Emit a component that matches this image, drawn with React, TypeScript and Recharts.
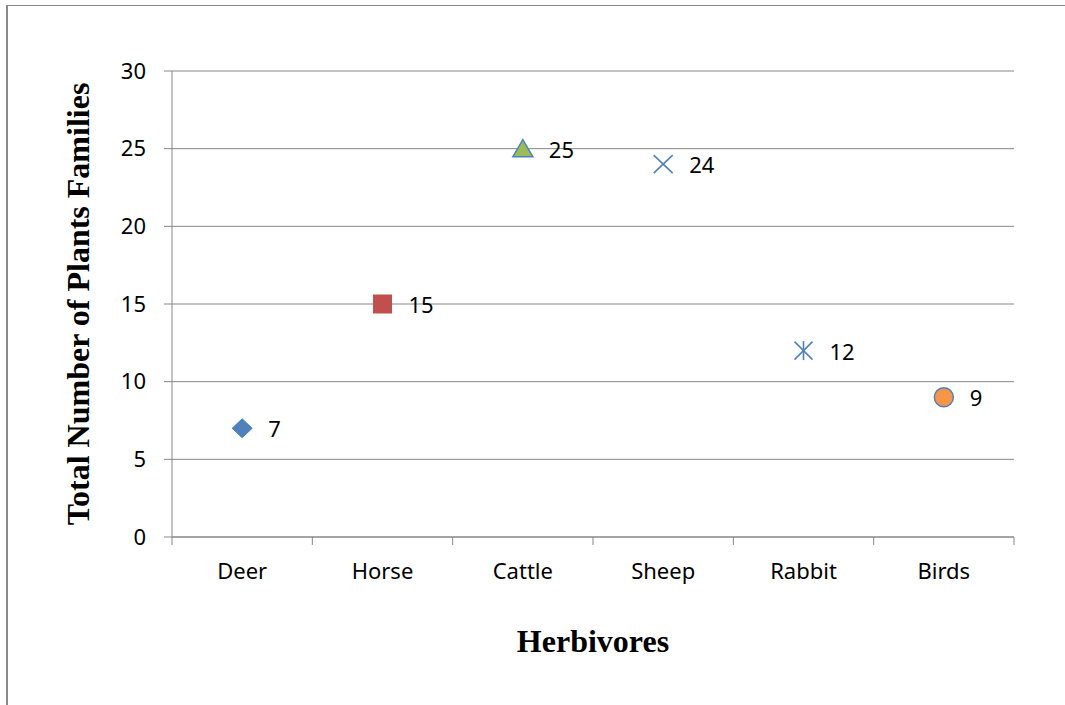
import { ComposedChart, Line, XAxis, YAxis, CartesianGrid, Label } from 'recharts'

const herbivores = ['Deer', 'Horse', 'Cattle', 'Sheep', 'Rabbit', 'Birds']
const plantFamilies = [7, 15, 25, 24, 12, 9]
const yTicks = [0, 5, 10, 15, 20, 25, 30]

const BLUE = '#4F81BD'
const GRID = '#878787'
const TICK_FONT = { fontFamily: 'Noto Sans', fontSize: 22, fill: '#000' }
const TITLE_FONT = { fontFamily: 'Liberation Serif', fontSize: 32, fontWeight: 'bold', fill: '#000' }

const chartData = herbivores.map((name, i) => ({ name, value: plantFamilies[i] }))

// one marker style per herbivore, like the office default series markers
const Marker = (props: any) => {
  const { cx, cy, payload } = props
  if (cx == null || cy == null) return null
  let mark: any = null
  switch (payload.name) {
    case 'Deer':
      mark = <polygon points={`${cx},${cy - 9.5} ${cx + 10},${cy} ${cx},${cy + 9.5} ${cx - 10},${cy}`} fill={BLUE} stroke={BLUE} strokeWidth={1} />
      break
    case 'Horse':
      mark = <rect x={cx - 9.5} y={cy - 9.5} width={19} height={19} fill="#C0504D" />
      break
    case 'Cattle':
      mark = <polygon points={`${cx},${cy - 9} ${cx + 10},${cy + 8} ${cx - 10},${cy + 8}`} fill="#9BBB59" stroke={BLUE} strokeWidth={1.5} />
      break
    case 'Sheep':
      mark = (
        <g stroke={BLUE} strokeWidth={1.6}>
          <line x1={cx - 9.5} y1={cy - 9} x2={cx + 9.5} y2={cy + 9} />
          <line x1={cx - 9.5} y1={cy + 9} x2={cx + 9.5} y2={cy - 9} />
        </g>
      )
      break
    case 'Rabbit':
      mark = (
        <g stroke={BLUE} strokeWidth={1.6}>
          <line x1={cx - 9} y1={cy - 9} x2={cx + 9} y2={cy + 9} />
          <line x1={cx - 9} y1={cy + 9} x2={cx + 9} y2={cy - 9} />
          <line x1={cx} y1={cy - 9.5} x2={cx} y2={cy + 9.5} />
        </g>
      )
      break
    default:
      mark = <circle cx={cx} cy={cy} r={9.5} fill="#F79646" stroke={BLUE} strokeWidth={1.5} />
  }
  return (
    <g key={payload.name}>
      {mark}
      <text x={cx + 26} y={cy} dominantBaseline="central" {...TICK_FONT}>
        {payload.value}
      </text>
    </g>
  )
}

// category tick: label at band centre, tick mark at band boundaries
const CategoryTick = (props: any) => {
  const { x, y, payload, index, visibleTicksCount, width } = props
  const half = payload?.offset || width / visibleTicksCount / 2
  const axisY = y - 18 - 8
  return (
    <g>
      <line x1={x - half} y1={axisY} x2={x - half} y2={axisY + 8} stroke={GRID} strokeWidth={1} />
      {index === visibleTicksCount - 1 && (
        <line x1={x + half} y1={axisY} x2={x + half} y2={axisY + 8} stroke={GRID} strokeWidth={1} />
      )}
      <text x={x} y={y} dy="0.74em" textAnchor="middle" {...TICK_FONT}>
        {payload.value}
      </text>
    </g>
  )
}

export default function App() {
  return (
    <div style={{ position: 'absolute', left: 0, top: 0, width: 1065, height: 705, background: '#fff' }}>
      <div
        style={{
          position: 'absolute', left: 6, top: 5, width: 1100, height: 760,
          borderTop: '1px solid #8a8a8a', borderLeft: '2px solid #8a8a8a',
        }}
      />
      <ComposedChart
        width={1065}
        height={705}
        data={chartData}
        margin={{ top: 71, right: 51, left: 0, bottom: 0 }}
        style={{ position: 'absolute', left: 0, top: 0 }}
      >
        <CartesianGrid horizontal vertical={false} stroke={GRID} strokeWidth={1} />
        <XAxis
          dataKey="name"
          scale="band"
          height={168}
          axisLine={{ stroke: GRID, strokeWidth: 1 }}
          tickLine={false}
          tickSize={8}
          tickMargin={18}
          interval={0}
          tick={<CategoryTick />}
        >
          <Label value="Herbivores" position="insideBottom" offset={53} style={TITLE_FONT} />
        </XAxis>
        <YAxis
          width={172}
          domain={[0, 30]}
          ticks={yTicks}
          interval={0}
          axisLine={{ stroke: GRID, strokeWidth: 1 }}
          tickLine={{ stroke: GRID, strokeWidth: 1 }}
          tickSize={8}
          tickMargin={18}
          tick={TICK_FONT}
        >
          <Label
            value="Total Number of Plants Families"
            angle={-90}
            position="insideLeft"
            offset={78}
            textAnchor="middle"
            style={{ ...TITLE_FONT, textAnchor: 'middle' }}
          />
        </YAxis>
        <Line
          dataKey="value"
          stroke="none"
          dot={<Marker />}
          activeDot={false}
          isAnimationActive={false}
        />
      </ComposedChart>
    </div>
  )
}
